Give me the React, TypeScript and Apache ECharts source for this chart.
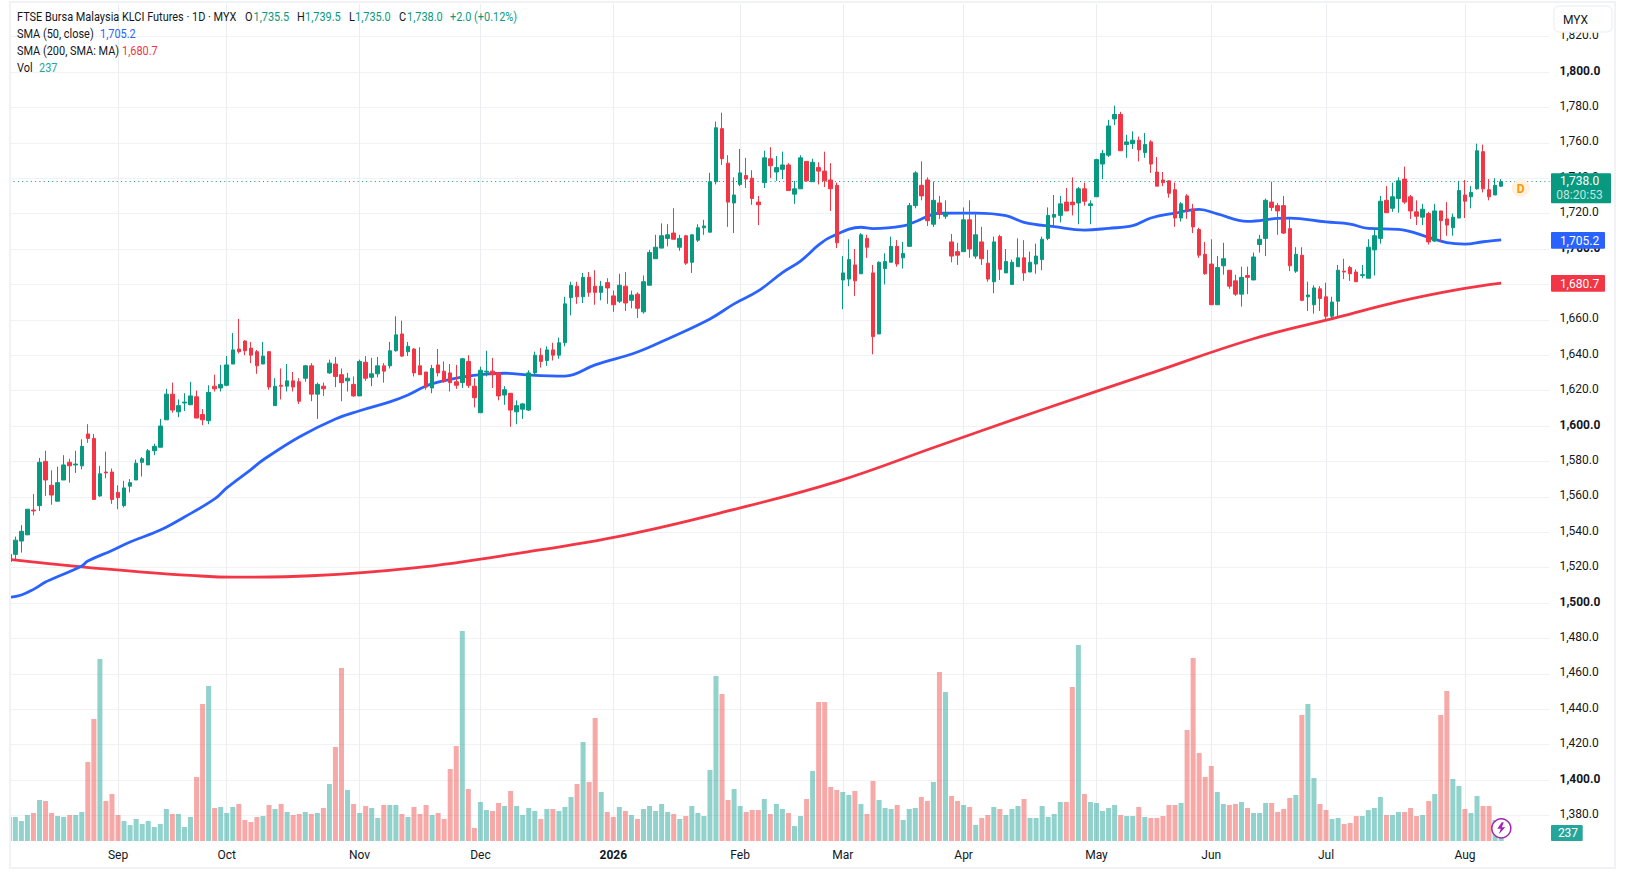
import React, { useEffect, useRef } from "react";
import * as echarts from "echarts";

// OHLC rows: [open, close, low, high]
const candlesAug25 = [
[1523.5,1527.5,1522.5,1528.5],[1527.5,1535.5,1524,1537.5],[1535,1540.5,1528.5,1544],[1538.5,1553,1538.5,1553],[1552.5,1552,1549.5,1561.5],[1555,1579.5,1552,1582],
[1580,1569.5,1560.5,1586],[1566.5,1561,1555.5,1575],[1557.5,1568,1557.5,1577],[1569.5,1578,1569.5,1583.5],[1579.5,1577.5,1568,1581.5],[1578,1578.5,1573.5,1586],
[1577.5,1588.5,1575.5,1592.5],[1595.5,1593,1590.5,1601],[1593,1558.5,1558.5,1595.5],[1560.5,1573,1560,1577.5],[1574,1573.5,1570.5,1585.5],[1574,1558.5,1556,1576],
];
const candlesSep = [
[1562.5,1559.5,1553,1566.5],[1555,1565,1554,1569],[1566,1568,1562.5,1570],[1569.5,1579,1569.5,1581],[1579.5,1581.5,1571.5,1582.5],[1578,1586,1578,1587],
[1586,1588.5,1583.5,1590],[1588,1600,1588,1604],[1603.5,1618,1603.5,1621],[1618,1609,1607.5,1624.5],[1608,1611.5,1605,1615],[1613,1613.5,1608.5,1618.5],
[1612,1617,1612,1625],[1616.5,1604.5,1604.5,1620],[1606.5,1603.5,1600.5,1609.5],[1603,1619,1601,1623],[1622.5,1621,1619.5,1629],[1621.5,1623.5,1619.5,1634.5],
];
const candlesOct = [
[1623,1634.5,1622.5,1639.5],[1635,1643,1635,1652.5],[1643.5,1642,1641,1660.5],[1648,1642.5,1640,1648.5],[1644,1640,1635.5,1647.5],[1642,1634,1629.5,1643],
[1635,1639.5,1635,1647.5],[1642,1622,1620.5,1642],[1611.5,1622.5,1611.5,1627],[1623,1622.5,1615,1632.5],[1622.5,1625.5,1619.5,1635],[1625.5,1622,1619.5,1630.5],
[1625,1614,1612.5,1627],[1627,1634,1625,1634.5],[1634,1618,1614,1635.5],[1618,1623.5,1604,1624.5],[1622.5,1621,1617,1624.5],[1630,1635.5,1629.5,1637.5],
[1635,1628,1622,1639],[1629,1624.5,1614,1632.5],[1625.5,1627,1619.5,1630],[1623.5,1617,1616.5,1628],
];
const candlesNov = [
[1617,1636.5,1617,1637.5],[1636,1627,1625.5,1639.5],[1627.5,1629.5,1622.5,1638.5],[1629.5,1634,1627.5,1639],[1634,1631,1624.5,1635.5],[1634,1642.5,1632.5,1647.5],
[1642.5,1651.5,1642,1662],[1652,1639.5,1639,1659.5],[1642,1645,1639.5,1647.5],[1643.5,1630,1628,1644],[1634,1629,1629,1644.5],[1630.5,1622,1620.5,1630.5],
[1621.5,1632.5,1618.5,1634.5],[1634.5,1630,1628,1643.5],[1631,1625,1624.5,1636.5],[1630,1624.5,1619.5,1635],[1625,1623,1621,1634.5],[1624.5,1638,1621.5,1638.5],
[1636.5,1623,1621.5,1640],[1622.5,1616,1610.5,1627],
];
const candlesDec = [
[1607.5,1631.5,1607.5,1633.5],[1630.5,1631,1628,1642.5],[1631,1629,1621.5,1638.5],[1630,1617,1614.5,1630],[1617.5,1620.5,1612,1622.5],[1618.5,1609,1599.5,1618.5],
[1608,1611.5,1601,1614.5],[1609.5,1612.5,1604,1613],[1609,1630,1608.5,1631.5],[1630,1640,1628.5,1642],[1640,1636.5,1633,1644],[1637,1643,1634,1645],
[1643,1640,1637,1647],[1640,1647,1638,1650],[1647,1669,1645,1673],[1672.5,1679.5,1662.5,1681.5],[1679,1673,1669,1681.5],[1673,1684,1669.5,1686.5],
[1684,1675.5,1673,1687],[1679,1675.5,1668.5,1688],[1675.5,1679,1671,1682],[1681,1678,1669,1683.5],
];
const candlesJan = [
[1673.5,1668.5,1664.5,1676.5],[1670.5,1679.5,1669.5,1686],[1679,1669.5,1665,1687],[1671,1674,1666.5,1676.5],[1674.5,1666.5,1661,1675.5],[1664.5,1681.5,1663.5,1685],
[1679.5,1698,1679.5,1699.5],[1694.5,1701,1694.5,1708],[1700.5,1707.5,1700.5,1714.5],[1706,1708,1701.5,1714],[1709,1705.5,1705.5,1723],[1701,1706,1699,1708],
[1707.5,1692,1691,1708],[1692.5,1708,1686.5,1708.5],[1705,1712,1704,1714],[1712,1713,1708,1716.5],[1709.5,1738,1709.5,1743],[1738,1768.5,1736.5,1772],
[1768,1751,1747.5,1777],[1748.5,1726.5,1712.5,1753],[1726,1730.5,1709,1740.5],
];
const candlesFeb = [
[1736.5,1743,1735.5,1756.5],[1741.5,1739.5,1734.5,1751.5],[1740,1728.5,1725,1744.5],[1726.5,1725,1713.5,1730],[1737.5,1751.5,1734.5,1755.5],[1751,1747,1740,1757.5],
[1743.5,1746,1738.5,1752.5],[1745,1747.5,1739.5,1755],[1747.5,1733,1733,1748.5],[1731,1734,1725.5,1738.5],[1734,1751.5,1734,1753],[1749.5,1738.5,1738,1749.5],
[1738,1749,1738,1751],[1746,1744,1736.5,1749],[1744,1738.5,1735,1755],[1739,1734,1721.5,1748.5],[1736,1703.5,1700.5,1737.5],
];
const candlesMar = [
[1682.5,1686.5,1666,1696],[1683,1694,1679,1705.5],[1691,1682,1673.5,1700],[1686,1708,1686,1709],[1706,1701,1695,1708],[1686.5,1650.5,1640.5,1691],
[1652,1692.5,1652,1693],[1689,1693,1680,1697.5],[1692.5,1701.5,1692.5,1707],[1701.5,1691.5,1690,1705],[1695,1697.5,1689,1704],[1701.5,1724.5,1701.5,1726],
[1724.5,1743,1723,1744],[1736,1730,1727.5,1749.5],[1739,1716,1713,1740.5],[1714,1727.5,1712.5,1738],[1726,1719.5,1717,1730],[1718.5,1720.5,1717,1727.5],
[1704,1696,1692.5,1708.5],[1698.5,1696.5,1691,1703.5],
];
const candlesApr = [
[1698.5,1716.5,1698.5,1723.5],[1716.5,1700,1695,1727.5],[1696,1708,1694.5,1721],[1704,1694.5,1691,1712.5],[1692,1683,1681.5,1699.5],[1681.5,1704,1675,1707],
[1707,1688.5,1682.5,1708],[1686.5,1693,1686.5,1700],[1680,1692.5,1680,1694],[1690,1695,1690,1706],[1695,1686.5,1682,1705],[1687,1692.5,1687,1698.5],
[1691.5,1696,1686,1703],[1694,1705.5,1688,1707],[1706,1719,1705,1723.5],[1718,1719.5,1712.5,1730.5],[1719,1725.5,1715,1730],[1726.5,1721.5,1721.5,1734.5],
[1726.5,1725,1719,1740.5],[1726,1734,1714,1735],[1734,1727,1724.5,1737.5],[1724.5,1725.5,1714,1727.5],
];
const candlesMay = [
[1729.5,1750.5,1729.5,1751],[1748,1754,1739.5,1756],[1753,1769.5,1752,1773],[1773.5,1776,1770,1781],[1776,1755.5,1755.5,1777.5],[1759,1760.5,1751.5,1764.5],
[1759.5,1761.5,1756.5,1766.5],[1761.5,1756,1749.5,1763.5],[1754.5,1759,1751.5,1765.5],[1760.5,1748,1743,1761.5],[1743.5,1735.5,1735.5,1752],[1739,1737.5,1735.5,1743.5],
[1738.5,1731.5,1729,1738.5],[1733.5,1717.5,1712.5,1737.5],[1717.5,1725.5,1715.5,1726.5],[1730,1722,1717,1731],[1722.5,1712.5,1709,1725.5],[1711,1696.5,1695,1712],
[1697,1686,1685.5,1704],
];
const candlesJun = [
[1691.5,1668.5,1668.5,1705.5],[1668.5,1689.5,1668.5,1696],[1690.5,1694.5,1685.5,1703.5],[1688,1679,1677.5,1688],[1682,1674.5,1673.5,1685.5],[1674.5,1684,1667.5,1690],
[1685,1684,1674.5,1690],[1682.5,1695.5,1682.5,1698],[1702.5,1705.5,1698,1708],[1706,1727.5,1696,1728.5],[1726.5,1723.5,1721.5,1738],[1724.5,1721.5,1708,1726],
[1724.5,1709,1708.5,1730],[1711.5,1690.5,1687.5,1717],[1687.5,1697,1686.5,1701],[1696.5,1671,1670.5,1701],[1673,1674,1665,1681.5],[1668.5,1678,1663.5,1679.5],
[1677.5,1672,1665,1679],
];
const candlesJul = [
[1673,1662,1660.5,1681],[1662,1670,1660.5,1673],[1670.5,1688,1661.5,1691],[1687.5,1687,1683,1694.5],[1689.5,1686,1682,1690.5],[1687,1681.5,1681.5,1688.5],
[1685,1685.5,1683.5,1691],[1683.5,1701,1683.5,1705.5],[1699.5,1707.5,1685,1711.5],[1706,1727,1703,1730],[1727.5,1720.5,1720.5,1735.5],[1723,1729.5,1721,1737.5],
[1728.5,1738.5,1720.5,1740.5],[1739.5,1726.5,1725.5,1746.5],[1729.5,1721.5,1717,1730.5],[1721,1718.5,1713.5,1727.5],[1718,1722.5,1713.5,1725.5],[1720,1704,1702.5,1721],
[1704.5,1721.5,1704,1725.5],[1721.5,1716,1704.5,1721.5],[1717,1713.5,1707.5,1726.5],[1712,1718,1707.5,1720],[1717.5,1733,1717.5,1738.5],
];
const candlesAug26 = [
[1730.5,1727,1717.5,1739],[1729.5,1732,1723,1735.5],[1734,1755.5,1733.5,1759.5],[1755,1734,1732,1759],[1733.5,1729.5,1727.5,1739.5],[1730.5,1736,1730.5,1740],
[1735.5,1738,1735,1739.5],
];
const candles = [...candlesAug25, ...candlesSep, ...candlesOct, ...candlesNov, ...candlesDec, ...candlesJan, ...candlesFeb, ...candlesMar, ...candlesApr, ...candlesMay, ...candlesJun, ...candlesJul, ...candlesAug26];

const volAug25 = [720,720,600,780,840,1230,1200,840,750,720,780,780,870,2370,3660,5460,1200,1410];
const volSep = [780,600,480,660,510,600,420,510,960,810,810,420,720,1920,4110,4650,990,1020];
const volOct = [840,1020,1110,630,570,720,750,1080,960,1110,870,780,810,870,810,840,990,1710,2820,5190,1530,1110];
const volNov = [840,1050,990,690,1080,1080,1080,810,720,1020,810,1080,780,840,660,2160,2850,6300,1560,390];
const volDec = [1170,930,900,1140,1050,1500,1050,780,990,900,660,960,960,900,1020,1320,1710,2970,1770,3690,1470,870];
const volJan = [720,1020,900,780,660,960,1050,900,1110,870,810,660,750,1050,840,750,2130,4950,4410,1230,1560];
const volFeb = [1050,870,930,930,1260,810,1110,960,840,450,750,1260,2100,4170,4170,1620,1530];
const volMar = [1470,1380,1500,1110,810,1800,1230,990,960,1080,630,960,990,1320,1200,1770,5070,4470,1350,1200];
const volApr = [1080,1020,480,690,780,1020,960,780,960,1050,1260,690,690,1050,720,810,1170,1170,4620,5880,1410,1170];
const volMay = [1140,900,990,1080,780,750,750,1020,720,690,690,750,1080,1080,1140,3330,5490,2640,1920];
const volJun = [2250,1470,1110,1080,1110,1170,990,840,840,1140,1140,870,960,1290,1380,3780,4110,1890,1110];
const volJul = [930,660,690,510,540,750,750,930,990,1320,780,780,870,870,990,750,780,1200,1410,3780,4500,1860,1650];
const volAug26 = [960,840,1350,1050,1050,630,237];
const volumes = [...volAug25, ...volSep, ...volOct, ...volNov, ...volDec, ...volJan, ...volFeb, ...volMar, ...volApr, ...volMay, ...volJun, ...volJul, ...volAug26];

// Moving averages read at the listed bars: [bar, value]
const sma50 = [
[0,1503.2],[2,1504.5],[4,1507.7],[6,1511.9],[7,1513.4],[12,1520.9],[13,1523.7],[17,1529.7],[20,1534.5],[25,1541.2],[29,1548.6],[34,1558.8],[36,1565],[40,1575.4],[42,1580.8],
[48,1593.8],[54,1604],[58,1608.6],[63,1613.6],[66,1617.5],[69,1622.6],[72,1625.6],[76,1628.2],[82,1629.8],[86,1628.8],[92,1628.2],[97,1634.5],[104,1641.8],[109,1649.2],[116,1660.5],
[120,1669],[124,1676.3],[128,1686.7],[131,1693.2],[134,1702.3],[136,1706.8],[141,1712.3],[143,1711.5],[148,1713],[150,1715.4],[154,1720.2],[160,1720.3],[165,1718.9],[168,1715.1],
[173,1712.6],[178,1710.7],[182,1711.7],[186,1713.2],[189,1717.5],[193,1720.3],[197,1722.4],[200,1719.8],[205,1715.6],[210,1717.3],[212,1717.5],[218,1715.3],[222,1714.1],[225,1711.6],
[230,1711.1],[235,1706.6],[238,1703.6],[241,1702.8],[244,1704.1],[247,1705.2],
];
const sma200 = [
[0,1524.7],[12,1520.4],[22,1517.5],[30,1515.6],[37,1514.6],[50,1515.4],[67,1519.8],[85,1528.5],[102,1538.4],[119,1552],[137,1568.6],[154,1589],[171,1609.2],[188,1628.7],[206,1649.3],
[220,1661.5],[230,1670.3],[240,1677.2],[247,1680.7],
];

const monthTicks: Record<number, string> = { 18: "Sep", 36: "Oct", 58: "Nov", 78: "Dec", 100: "2026", 121: "Feb", 138: "Mar", 158: "Apr", 180: "May", 199: "Jun", 218: "Jul", 241: "Aug" };
const boldPrices = [1400, 1500, 1600, 1700, 1800];
const lastPrice = 1738;
const slots = 256;

const UP = "#089981";
const DOWN = "#F23645";
const BLUE = "#2962FF";
const INK = "#131722";
const FONT = "Roboto";
const GRID_H = "#f1f2f4";
const GRID_V = "#ecedf0";

const categories = Array.from({ length: slots }, (_, i) => monthTicks[i] ?? "");
const fmt = (v: number) => v.toLocaleString("en-US", { minimumFractionDigits: 1, maximumFractionDigits: 1 });

function legendText(text: string, x: number, y: number, fill: string) {
  return { type: "text", z: 50, x, y, scaleX: 0.875, style: { text, x: 0, y: 0, fill, font: `12.5px ${FONT}`, textVerticalAlign: "middle" } };
}
function tag(x: number, y: number, w: number, h: number, fill: string) {
  return { type: "rect", z: 40, shape: { x, y, width: w, height: h, r: 1 }, style: { fill } };
}
function tagText(text: string, x: number, y: number, fill = "#ffffff", size = 12) {
  return { type: "text", z: 41, style: { text, x, y, fill, font: `${size}px ${FONT}`, textAlign: "center", textVerticalAlign: "middle" } };
}

export default function App() {
  const ref = useRef<HTMLDivElement>(null);
  useEffect(() => {
    const chart = echarts.init(ref.current!, undefined, { renderer: "svg" });
    const gridLeft = 9.3;
    const gridWidth = 1540.2;
    chart.setOption({
      animation: false,
      backgroundColor: "#ffffff",
      grid: [
        { left: gridLeft, width: gridWidth, top: 36.6, height: 778.8, containLabel: false },
        { left: gridLeft, width: gridWidth, top: 4, height: 837, containLabel: false },
      ],
      xAxis: [
        { type: "category", gridIndex: 0, data: categories, boundaryGap: false, axisLine: { show: false }, axisTick: { show: false }, axisLabel: { show: false }, splitLine: { show: false } },
        {
          type: "category", gridIndex: 1, data: categories, boundaryGap: false,
          axisLine: { show: false }, axisTick: { show: false },
          axisLabel: {
            interval: (i: number) => Boolean(monthTicks[i]),
            margin: 8, color: INK, fontFamily: FONT, fontSize: 12,
            formatter: (v: string) => (v === "2026" ? "{b|2026}" : v),
            rich: { b: { fontWeight: "bold", fontFamily: FONT, fontSize: 12, color: INK } },
          },
          splitLine: { show: true, interval: (i: number) => Boolean(monthTicks[i]), lineStyle: { color: GRID_V, width: 1 } },
        },
      ],
      yAxis: [
        {
          type: "value", gridIndex: 0, position: "right", min: 1380, max: 1820, interval: 20,
          axisLine: { show: false }, axisTick: { show: false },
          axisLabel: {
            margin: 10, color: INK, fontFamily: FONT, fontSize: 12, padding: [0, 0, 3, 0],
            formatter: (v: number) => (boldPrices.includes(v) ? `{b|${fmt(v)}}` : fmt(v)),
            rich: { b: { fontWeight: "bold", fontFamily: FONT, fontSize: 12, color: INK } },
          },
          splitLine: { show: true, lineStyle: { color: GRID_H, width: 1 } },
        },
        { type: "value", gridIndex: 1, min: 0, max: 25110, show: false, splitLine: { show: false } },
      ],
      series: [
        {
          type: "bar", name: "Vol", xAxisIndex: 1, yAxisIndex: 1, barWidth: 5, z: 2, silent: true,
          data: volumes.map((v, i) => ({
            value: v,
            itemStyle: { color: candles[i][1] >= candles[i][0] ? "rgba(38,166,154,0.5)" : "rgba(239,83,80,0.5)" },
          })),
        },
        {
          type: "line", name: "SMA 200", xAxisIndex: 0, yAxisIndex: 0, data: sma200, showSymbol: false, smooth: 0.4, z: 3,
          lineStyle: { color: DOWN, width: 2.8 },
        },
        {
          type: "line", name: "SMA 50", xAxisIndex: 0, yAxisIndex: 0, data: sma50, showSymbol: false, smooth: 0.4, z: 3,
          lineStyle: { color: BLUE, width: 2.8 },
        },
        {
          type: "candlestick", name: "KLCI", xAxisIndex: 0, yAxisIndex: 0, barWidth: 4, z: 5, data: candles,
          itemStyle: { color: UP, color0: DOWN, borderColor: UP, borderColor0: DOWN, borderWidth: 1 },
          markLine: {
            silent: true, symbol: "none", label: { show: false }, animation: false,
            lineStyle: { color: UP, type: [1, 3.3], width: 1 },
            data: [{ yAxis: lastPrice }],
          },
        },
      ],
      graphic: [
        { type: "rect", z: 20, shape: { x: 0, y: 0, width: 10, height: 872 }, style: { fill: "#ffffff" } },
        { type: "rect", z: 21, shape: { x: 10, y: 2, width: 1605, height: 866 }, style: { fill: "none", stroke: "#f0f2f5", lineWidth: 2 } },
        legendText("FTSE Bursa Malaysia KLCI Futures · 1D · MYX", 17, 17, INK),
        legendText("O", 245, 17, INK), legendText("1,735.5", 253.5, 17, UP),
        legendText("H", 297, 17, INK), legendText("1,739.5", 305, 17, UP),
        legendText("L", 349, 17, INK), legendText("1,735.0", 355, 17, UP),
        legendText("C", 399, 17, INK), legendText("1,738.0", 407, 17, UP),
        legendText("+2.0 (+0.12%)", 450, 17, UP),
        legendText("SMA (50, close)", 17, 34, INK), legendText("1,705.2", 100, 34, BLUE),
        legendText("SMA (200, SMA: MA)", 17, 50.7, INK), legendText("1,680.7", 122, 50.7, DOWN),
        legendText("Vol", 17, 67.5, INK), legendText("237", 39, 67.5, "#26a69a"),

        { type: "rect", z: 45, shape: { x: 1554, y: 6, width: 58, height: 26, r: 5 }, style: { fill: "#ffffff", stroke: "#eff2f7", lineWidth: 1.5 } },
        { type: "text", z: 46, style: { text: "MYX", x: 1563, y: 20, fill: INK, font: `12px ${FONT}`, textVerticalAlign: "middle" } },

        tag(1551, 173.3, 60, 30, UP),
        tagText("1,738.0", 1579.5, 181, "#ffffff"),
        tagText("08:20:53", 1579.5, 195, "rgba(255,255,255,0.75)"),
        tag(1551, 232, 54, 16.7, BLUE),
        tagText("1,705.2", 1579.5, 240.5),
        tag(1551, 275, 54, 16.7, DOWN),
        tagText("1,680.7", 1579.5, 283.5),
        tag(1551, 825, 31.7, 16, "#26a69a"),
        tagText("237", 1568, 833),

        { type: "circle", z: 30, shape: { cx: 1520.7, cy: 188.3, r: 9 }, style: { fill: "#fff3e0" } },
        { type: "text", z: 31, style: { text: "D", x: 1520.7, y: 188.5, fill: "#ff9800", font: `bold 12px ${FONT}`, textAlign: "center", textVerticalAlign: "middle" } },

        { type: "circle", z: 30, shape: { cx: 1501.3, cy: 828.3, r: 9.5 }, style: { fill: "#ffffff", stroke: "#9c27b0", lineWidth: 1.5 } },
        { type: "polygon", z: 31, shape: { points: [[1501.8,822.3],[1497.3,828.8],[1500.8,828.8],[1498.8,834.3],[1505.3,827.3],[1501.8,827.3],[1503.8,822.3]] }, style: { fill: "#9c27b0" } },
      ],
    } as any);
    return () => chart.dispose();
  }, []);
  return <div ref={ref} style={{ position: "fixed", left: 0, top: 0, width: 1626, height: 872, background: "#ffffff" }} />;
}
